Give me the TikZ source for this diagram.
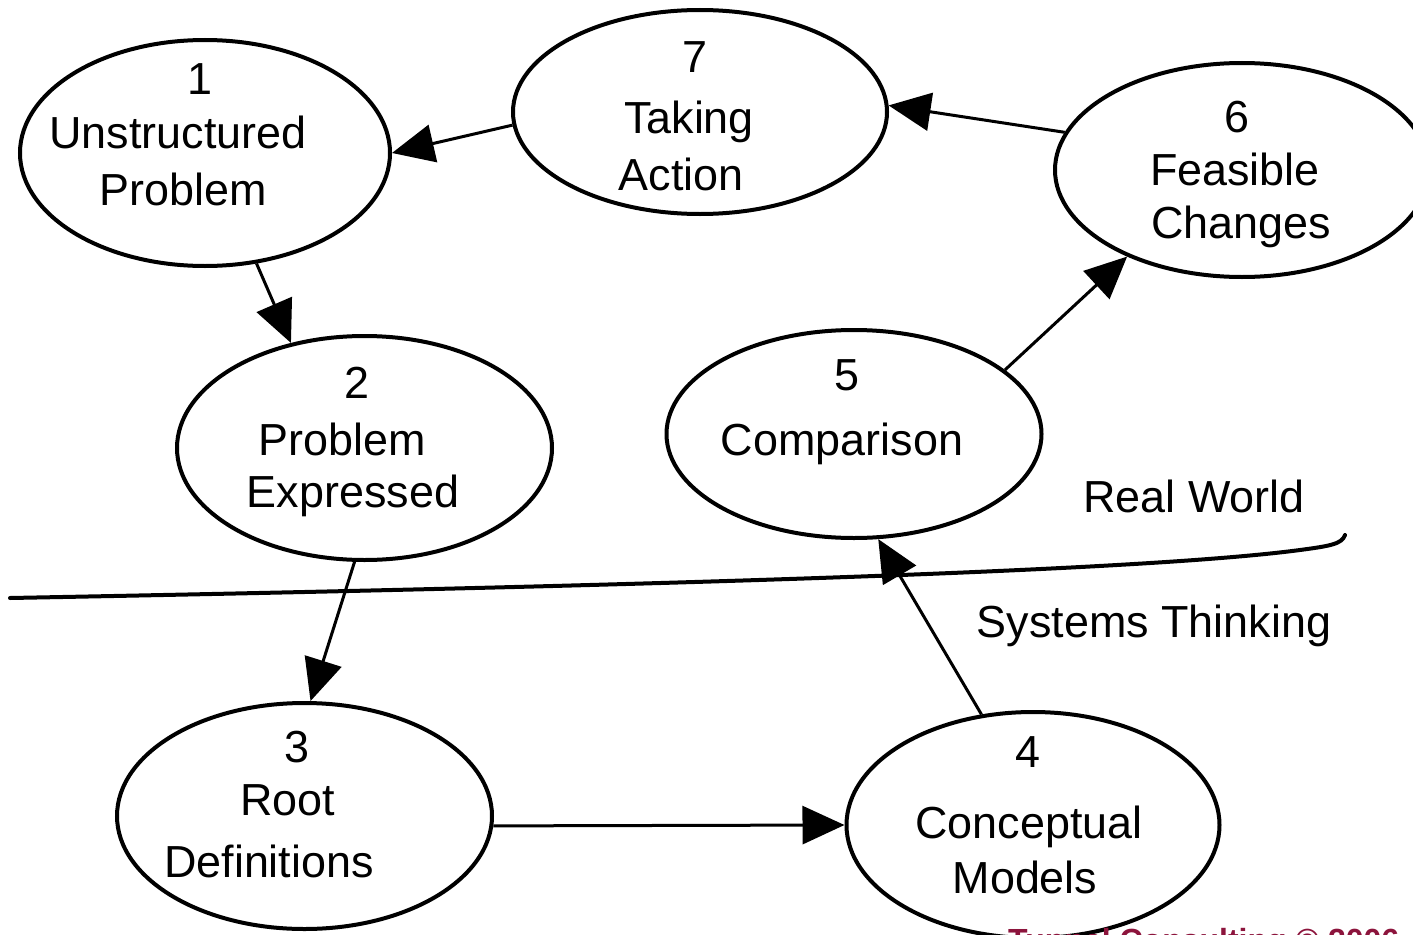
\documentclass[tikz,border=0pt]{standalone}
\usepackage{fontspec}
\setmainfont{Liberation Sans}
\usetikzlibrary{arrows.meta,shapes.geometric}
\definecolor{footred}{RGB}{140,20,60}
\begin{document}
\begin{tikzpicture}[x=1pt,y=-1pt,
  stage/.style={draw=black,line width=4pt,ellipse,inner sep=0pt},
  lbl/.style={anchor=base,inner sep=0pt,font=\fontsize{44.9}{55}\selectfont},
  flow/.style={draw=black,line width=3pt,-{Triangle[length=42pt,width=38pt]}}]
\clip (0,0) rectangle (1413,934);
\useasboundingbox (0,0) rectangle (1413,934);

% stages of the cycle
\node[stage,minimum width=370pt,minimum height=226pt] (n1) at (205,153) {};
\node[stage,minimum width=374pt,minimum height=204pt] (n7) at (700,112) {};
\node[stage,minimum width=374pt,minimum height=214pt] (n6) at (1242,170) {};
\node[stage,minimum width=375pt,minimum height=224pt] (n2) at (364.5,448) {};
\node[stage,minimum width=375pt,minimum height=208pt] (n5) at (854,434) {};
\node[stage,minimum width=375pt,minimum height=226pt] (n3) at (304.5,816) {};
\node[stage,minimum width=373pt,minimum height=226pt] (n4) at (1033,825) {};

% stage texts
\node[lbl] (t1a) at (200,95) {1};
\node[lbl] (t1b) at (178,148) {Unstructured};
\node[lbl] (t1c) at (183,205) {Problem};
\node[lbl] (t7a) at (695,72) {7};
\node[lbl] (t7b) at (689,133) {Taking};
\node[lbl] (t7c) at (681,190) {Action};
\node[lbl] (t6a) at (1237,132) {6};
\node[lbl] (t6b) at (1235,185) {Feasible};
\node[lbl] (t6c) at (1241,238) {Changes};
\node[lbl] (t2a) at (357,398) {2};
\node[lbl] (t2b) at (342,455) {Problem};
\node[lbl] (t2c) at (353,507) {Expressed};
\node[lbl] (t5a) at (847,390) {5};
\node[lbl] (t5b) at (842,455) {Comparison};
\node[lbl] (t3a) at (297,762) {3};
\node[lbl] (t3b) at (288,815) {Root};
\node[lbl] (t3c) at (269,877) {Definitions};
\node[lbl] (t4a) at (1028,767) {4};
\node[lbl] (t4b) at (1029,838) {Conceptual};
\node[lbl] (t4c) at (1025,893) {Models};

% connectors
\draw[flow] (n7.184) -- (n1.0);
\draw[flow] (n6.168) -- (n7.2);
\draw[flow] (n1.-65) -- (n2.125);
\draw[flow] (n2.-95) -- (n3.87);
\draw[flow] (n3.-3) -- (n4.180);
\draw[flow] (n4.115) -- (n5.-77);
\draw[flow] (n5.23) -- (n6.-143);

% boundary between the two worlds
\coordinate (bl) at (10,598);
\coordinate (br) at (1345,535);
\draw[line width=4pt,line cap=round] (bl) .. controls (700,585) and (1150,570) .. (1300,550)
  .. controls (1330,546) and (1342,544) .. (br);
\node[lbl] (rw) at (1194,512) {Real World};
\node[lbl] (st) at (1154,637) {Systems Thinking};

% footer, running off the bottom edge
\node[anchor=base west,inner sep=0pt,text=footred,font=\bfseries\fontsize{32}{38}\selectfont] (foot) at (1008,951) {Tunnel Consulting \textcopyright\ 2006};
\end{tikzpicture}
\end{document}
